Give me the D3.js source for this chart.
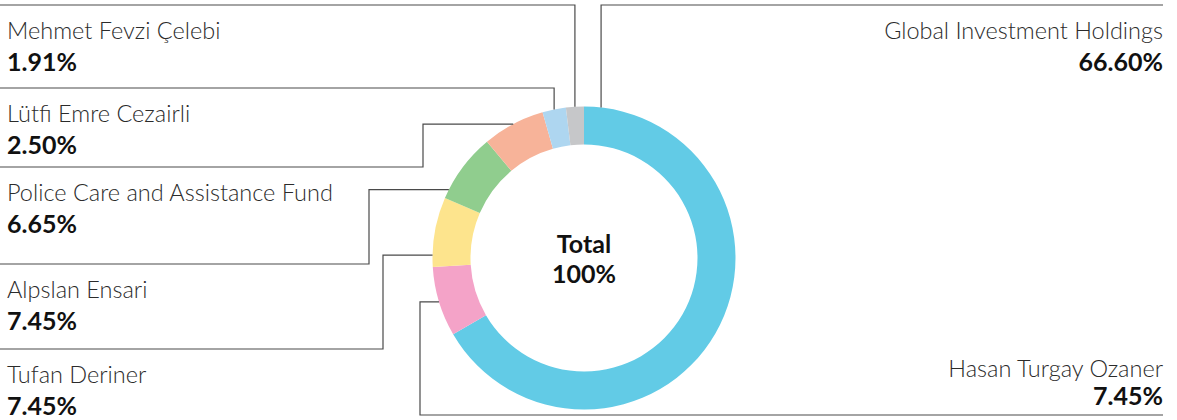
<!DOCTYPE html>
<html>
<head>
<meta charset="utf-8">
<script src="https://cdn.jsdelivr.net/npm/d3@7"></script>
<style>
  body { margin: 0; background: #fff; }
  svg { display: block; }
  .name { font-family: Lato, "Noto Sans", sans-serif; font-weight: 300; font-size: 23.5px; fill: #2b2b2b; }
  .val { font-family: Lato, "Noto Sans", sans-serif; font-weight: 700; font-size: 25px; fill: #111; }
  .leader { fill: none; stroke: #4a4a4a; stroke-width: 1.2; }
</style>
</head>
<body>
<script>
// shareholders, clockwise from 12 o'clock
var names = ['Global Investment Holdings', 'Hasan Turgay Ozaner', 'Tufan Deriner', 'Alpslan Ensari',
             'Police Care and Assistance Fund', 'Lütfi Emre Cezairli', 'Mehmet Fevzi Çelebi'];
var shares = [66.60, 7.45, 7.45, 7.45, 6.65, 2.50, 1.91];
var colors = ['#62cbe6', '#f4a3c8', '#fde48d', '#90cd8e', '#f7b399', '#aed6f0', '#c6c7c9'];
var totalLabel = ['Total', '100%'];

var width = 1177, height = 420;
var cx = 584, cy = 258, rOuter = 151.5, rInner = 113.5;

// label placement: side, level of the label rule, elbow x (null = straight drop),
// where along the slice the leader touches (0..1)
var layout = [
  {side: 'right', y: 5,   elbow: null, at: 0.027, below: true},
  {side: 'right', y: 415, elbow: 420,  at: 0.5,   below: false},
  {side: 'left',  y: 349, elbow: 383,  at: 0.17,  below: true},
  {side: 'left',  y: 264, elbow: 369,  at: 0.13,  below: true},
  {side: 'left',  y: 167, elbow: 423,  at: 0.5,   below: true},
  {side: 'left',  y: 88,  elbow: null, at: 0.5,   below: true},
  {side: 'left',  y: 5,   elbow: null, at: 0.5,   below: true}
];

var svg = d3.select('body').append('svg')
    .attr('width', width)
    .attr('height', height);

var pie = d3.pie().sort(null).value(function(d) { return d; });
var arcs = pie(shares);
var arc = d3.arc().innerRadius(rInner).outerRadius(rOuter);

var g = svg.append('g').attr('transform', 'translate(' + cx + ',' + cy + ')');
g.selectAll('path.slice')
  .data(arcs)
  .enter().append('path')
  .attr('class', 'slice')
  .attr('d', arc)
  .attr('fill', function(d, i) { return colors[i]; });

// leaders
var leftX = 0, rightX = 1163;
arcs.forEach(function(a, i) {
  var L = layout[i];
  var ang = a.startAngle + (a.endAngle - a.startAngle) * L.at;
  var ax = cx + rOuter * Math.sin(ang);
  var ay = cy - rOuter * Math.cos(ang);
  var startX = L.side == 'left' ? leftX : rightX;
  var pts;
  if (L.elbow == null) {
    pts = [[startX, L.y], [ax, L.y], [ax, ay]];
  } else {
    pts = [[startX, L.y], [L.elbow, L.y], [L.elbow, ay], [ax, ay]];
  }
  svg.append('path').attr('class', 'leader').attr('d', d3.line()(pts));

  var tx = L.side == 'left' ? 7 : rightX;
  var anchor = L.side == 'left' ? 'start' : 'end';
  var y1 = L.below ? L.y + 34 : L.y - 38;
  var y2 = L.below ? Math.min(L.y + 66, 415) : L.y - 10;
  svg.append('text').attr('class', 'name').attr('x', tx).attr('y', y1)
    .attr('text-anchor', anchor).text(names[i]);
  svg.append('text').attr('class', 'val').attr('x', tx).attr('y', y2)
    .attr('text-anchor', anchor).text(d3.format('.2f')(shares[i]) + '%');
});

g.selectAll('text.total')
  .data(totalLabel)
  .enter().append('text')
  .attr('class', 'val')
  .attr('text-anchor', 'middle')
  .attr('y', function(d, i) { return -5 + i * 30; })
  .text(function(d) { return d; });
</script>
</body>
</html>
